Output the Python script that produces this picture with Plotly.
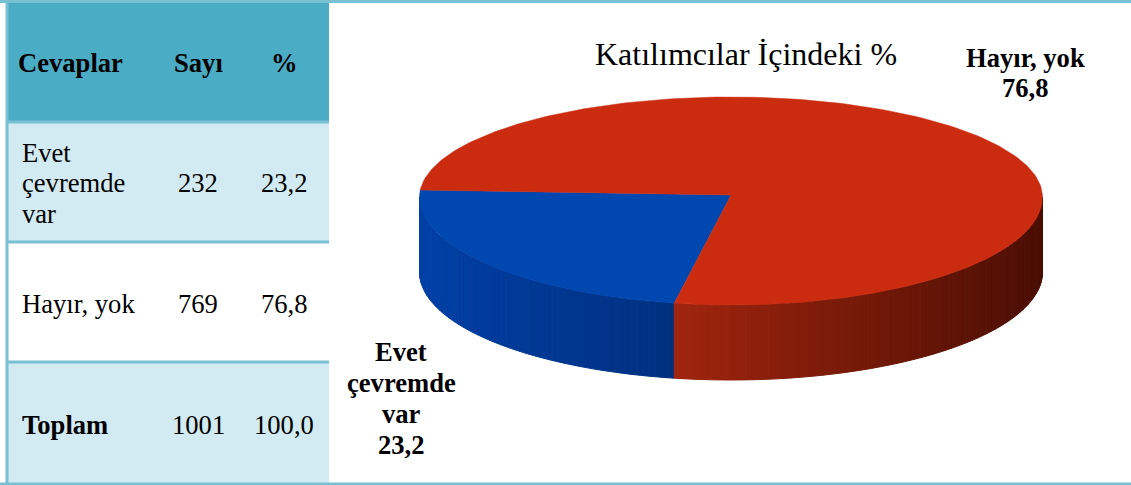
import numpy as np
import plotly.graph_objects as go

# ── Dados ─────────────────────────────────────────────────────
HEADERS = ["Cevaplar", "Sayı", "%"]
ANSWERS = ["Evet<br>çevremde<br>var", "Hayır, yok", "Toplam"]
COUNTS = ["232", "769", "1001"]
PCT_TEXT = ["23,2", "76,8", "100,0"]
SLICE_NAMES = ["Evet çevremde var", "Hayır, yok"]
SLICE_VALUES = [23.2, 76.8]
TITLE = "Katılımcılar İçindeki %"

# ── Estilo ────────────────────────────────────────────────────
W, H = 1131, 485
FONT = "Liberation Serif"
SIZE = 26.6
BORDER = "#78c0d4"
HEAD_BG = "#4bacc6"
BAND_BG = "#d2eaf1"

CX, CY = 731, 197
APEX_Y = 195
RX, RY_TOP, RY_BOT = 311.5, 100, 108
DEPTH = 75
START = 190.5  # graus, sentido horário a partir do topo

TOP_COLORS = ["#0047b0", "#cb2c10"]
SIDE_COLORS = [
    ("#0040a6", "#00307f"),  # azul, esquerda -> direita
    ("#a0250e", "#4a0e03"),  # vermelho, esquerda -> direita
]

ROW_Y = [3, 122, 242, 362, 484]
COL_X = [8, 329]
TEXT_X = [20, 198, 284]


def rim(phi):
    """Ponto da borda da elipse para o ângulo phi (graus)."""
    p = np.radians(phi)
    c = np.cos(p)
    ry = np.where(c >= 0, RY_TOP, RY_BOT)
    return CX + RX * np.sin(p), CY - ry * c


def mix(a, b, t):
    ca = [int(a[i:i + 2], 16) for i in (1, 3, 5)]
    cb = [int(b[i:i + 2], 16) for i in (1, 3, 5)]
    return "rgb({},{},{})".format(*[round(x + (y - x) * t) for x, y in zip(ca, cb)])


def text(fig, x, y, s, bold=False, anchor="center", size=SIZE, step=30.5):
    lines = s.split("<br>")
    y0 = y - step * (len(lines) - 1) / 2
    for i, line in enumerate(lines):
        fig.add_annotation(
            x=x, y=y0 + i * step, text=f"<b>{line}</b>" if bold else line,
            showarrow=False, xanchor=anchor, yanchor="middle",
            font=dict(family=FONT, size=size, color="#000000"),
        )


fig = go.Figure()

# ── Tabela ────────────────────────────────────────────────────
fills = [HEAD_BG, BAND_BG, "#ffffff", BAND_BG]
for i, color in enumerate(fills):
    fig.add_shape(type="rect", x0=COL_X[0], x1=COL_X[1], y0=ROW_Y[i], y1=ROW_Y[i + 1],
                  fillcolor=color, line_width=0, layer="below")
for y in ROW_Y[1:4]:
    fig.add_shape(type="line", x0=COL_X[0], x1=COL_X[1], y0=y, y1=y,
                  line=dict(color=BORDER, width=3))
fig.add_shape(type="line", x0=0, x1=W, y0=1.5, y1=1.5, line=dict(color=BORDER, width=3))
fig.add_shape(type="line", x0=0, x1=W, y0=484, y1=484, line=dict(color=BORDER, width=3))
fig.add_shape(type="line", x0=7, x1=7, y0=0, y1=H, line=dict(color=BORDER, width=3))

text(fig, 16, 63, HEADERS[0], bold=True, anchor="left")
text(fig, TEXT_X[1], 63, HEADERS[1], bold=True)
text(fig, TEXT_X[2], 63, HEADERS[2], bold=True)
for i, y in enumerate([183, 304, 425]):
    text(fig, TEXT_X[0], y, ANSWERS[i], bold=ANSWERS[i] == "Toplam", anchor="left")
    text(fig, TEXT_X[1], y, COUNTS[i])
    text(fig, TEXT_X[2], y, PCT_TEXT[i])

# ── Pizza 3D ──────────────────────────────────────────────────
spans = np.array(SLICE_VALUES) / sum(SLICE_VALUES) * 360
starts = [START, START + spans[0]]

# parede lateral: faixas finas só na metade da frente (90..270)
for k in range(2):
    lo = max(starts[k], 90) if k == 0 else 90
    hi = min(starts[k] + spans[k], 270) if k == 0 else starts[0]
    edges = np.linspace(lo, hi, 70)
    x_ends = rim(lo)[0], rim(hi)[0]
    for a, b in zip(edges[:-1], edges[1:]):
        xa, ya = rim(a)
        xb, yb = rim(b)
        t = abs((xa + xb) / 2 - min(x_ends)) / abs(x_ends[0] - x_ends[1])
        color = mix(SIDE_COLORS[k][0], SIDE_COLORS[k][1], t)
        fig.add_trace(go.Scatter(
            x=[xa, xb, xb, xa, xa], y=[ya, yb, yb + DEPTH, ya + DEPTH, ya],
            mode="lines", fill="toself", fillcolor=color,
            line=dict(color=color, width=1), hoverinfo="skip", showlegend=False,
        ))

# face de cima
for k in range(2):
    phi = np.linspace(starts[k], starts[k] + spans[k], 240)
    xs, ys = rim(phi)
    fig.add_trace(go.Scatter(
        x=np.r_[CX, xs, CX], y=np.r_[APEX_Y, ys, APEX_Y],
        mode="lines", fill="toself", fillcolor=TOP_COLORS[k],
        line=dict(color=TOP_COLORS[k], width=0.5),
        name=SLICE_NAMES[k], text=SLICE_NAMES[k],
        hovertemplate=f"{SLICE_NAMES[k]}: {SLICE_VALUES[k]}<extra></extra>",
        showlegend=False,
    ))

# ── Textos do gráfico ─────────────────────────────────────────
text(fig, 746, 54, TITLE, size=32)
text(fig, 1025, 73, f"Hayır, yok<br>{PCT_TEXT[1]}", bold=True)
text(fig, 401, 398, f"Evet<br>çevremde<br>var<br>{PCT_TEXT[0]}", bold=True, step=31)

fig.update_layout(
    width=W, height=H,
    margin=dict(t=0, b=0, l=0, r=0),
    paper_bgcolor="#ffffff",
    plot_bgcolor="#ffffff",
    xaxis=dict(range=[0, W], visible=False, fixedrange=True),
    yaxis=dict(range=[H, 0], visible=False, fixedrange=True),
    showlegend=False,
)

fig.write_html("out.html", config=dict(displayModeBar=False),
               post_script="document.body.style.margin='0';")
